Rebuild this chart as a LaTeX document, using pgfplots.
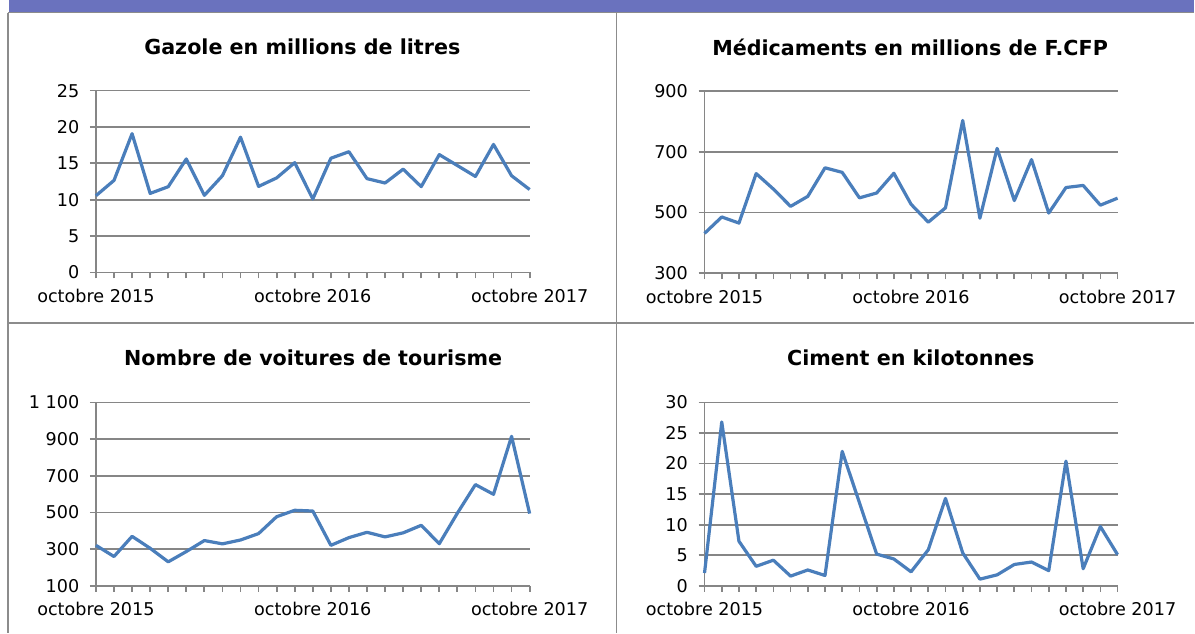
\documentclass[border=0pt]{standalone}
\usepackage{pgfplots}
\pgfplotsset{compat=1.18}
\usepackage{fontspec}
\setmainfont{DejaVu Sans}
\definecolor{band}{HTML}{6A72BE}
\definecolor{frame}{HTML}{8C8C8C}
\definecolor{gridc}{HTML}{868686}
\definecolor{serie}{HTML}{4A7EBB}
\pgfplotsset{
  panel/.style={
    scale only axis,
    anchor=south west,
    xmin=0, xmax=24,
    axis x line*=bottom, axis y line*=left,
    axis line style={gridc, line width=1.3pt, -},
    every tick/.style={gridc, line width=1.3pt},
    tick align=outside,
    major tick length=4.5pt,
    xtick={0,...,24},
    xticklabels={octobre 2015,,,,,,,,,,,,octobre 2016,,,,,,,,,,,,octobre 2017},
    ymajorgrids=true,
    grid style={gridc, line width=1.3pt},
    tick label style={font=\fontsize{13.2}{15}\selectfont, text=black},
    /pgf/number format/assume math mode=true,
    xticklabel style={yshift=-4.5pt},
    yticklabel style={xshift=-4.5pt},
    clip=false,
  },
  serieline/.style={serie, line width=2.4pt, line join=round, mark=none},
}
\begin{document}
\begin{tikzpicture}
% page and frame
\fill[white] (0,0) rectangle (896.25pt,-474.75pt);
\fill[band] (6.75pt,0) rectangle (896.25pt,-9pt);
\draw[frame, line width=1.2pt] (6pt,-9.4pt) -- (896.25pt,-9.4pt);
\draw[frame, line width=1.2pt] (6pt,-9.4pt) -- (6pt,-474.75pt);
\draw[frame, line width=1.2pt] (462.75pt,-9.4pt) -- (462.75pt,-474.75pt);
\draw[frame, line width=1.2pt] (6pt,-242.25pt) -- (896.25pt,-242.25pt);
% titles
\node[font=\bfseries\fontsize{15.5}{18}\selectfont] at (226.9pt,-35.25pt) {Gazole en millions de litres};
\node[font=\bfseries\fontsize{15.5}{18}\selectfont] at (683pt,-35.25pt) {Médicaments en millions de F.CFP};
\node[font=\bfseries\fontsize{15.5}{18}\selectfont] at (235pt,-268.5pt) {Nombre de voitures de tourisme};
\node[font=\bfseries\fontsize{15.5}{18}\selectfont] at (683.6pt,-268.5pt) {Ciment en kilotonnes};

% Panel 1: Gazole
\begin{axis}[panel, at={(72pt,-204.5pt)}, width=325.5pt, height=136.5pt,
  ymin=0, ymax=25, ytick={0,5,...,25}]
\addplot[serieline] coordinates {
(0,10.55)(1,12.66)(2,19.08)(3,10.87)(4,11.79)(5,15.6)(6,10.6)(7,13.3)(8,18.6)(9,11.83)
(10,13.0)(11,15.1)(12,10.1)(13,15.7)(14,16.6)(15,12.9)(16,12.3)(17,14.2)(18,11.8)(19,16.2)
(20,14.7)(21,13.2)(22,17.6)(23,13.3)(24,11.4)};
\end{axis}

% Panel 2: Medicaments
\begin{axis}[panel, at={(528.75pt,-205pt)}, width=310pt, height=136.7pt,
  ymin=300, ymax=900, ytick={300,500,700,900}]
\addplot[serieline] coordinates {
(0,431)(1,485)(2,465)(3,628)(4,577)(5,520)(6,553)(7,647)(8,632)(9,548)
(10,564)(11,629)(12,527)(13,468)(14,515)(15,803)(16,481)(17,711)(18,539)(19,674)
(20,498)(21,582)(22,589)(23,524)(24,547)};
\end{axis}

% Panel 3: Voitures
\begin{axis}[panel, at={(72pt,-439.7pt)}, width=325.5pt, height=137.7pt,
  ymin=100, ymax=1100, ytick={100,300,500,700,900,1100},
  yticklabels={100,300,500,700,900,1 100}]
\addplot[serieline] coordinates {
(0,321)(1,260)(2,370)(3,305)(4,231)(5,287)(6,347)(7,329)(8,350)(9,385)
(10,477)(11,512)(12,508)(13,321)(14,363)(15,392)(16,367)(17,389)(18,430)(19,330)
(20,496)(21,652)(22,599)(23,915)(24,494)};
\end{axis}

% Panel 4: Ciment
\begin{axis}[panel, at={(528.75pt,-439.7pt)}, width=310pt, height=137.7pt,
  ymin=0, ymax=30, ytick={0,5,...,30}]
\addplot[serieline] coordinates {
(0,2.1)(1,26.8)(2,7.3)(3,3.2)(4,4.2)(5,1.6)(6,2.6)(7,1.7)(8,22.0)(9,13.6)
(10,5.2)(11,4.4)(12,2.3)(13,5.9)(14,14.3)(15,5.4)(16,1.1)(17,1.8)(18,3.5)(19,3.9)
(20,2.5)(21,20.4)(22,2.8)(23,9.7)(24,5.1)};
\end{axis}
\end{tikzpicture}
\end{document}
